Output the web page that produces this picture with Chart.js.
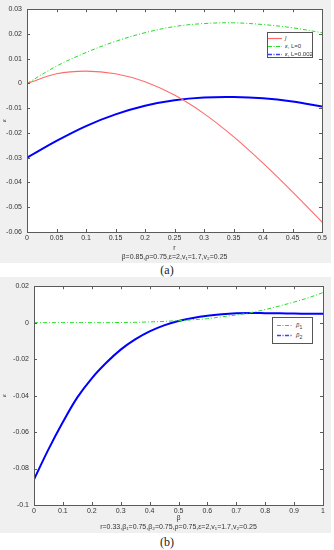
<!DOCTYPE html>
<html>
<head>
<meta charset="utf-8">
<script src="https://cdn.jsdelivr.net/npm/chart.js@4/dist/chart.umd.min.js"></script>
<style>
  body { margin: 0; background: #fff; width: 334px; height: 550px; position: relative; overflow: hidden; font-family: "Liberation Sans", Arial, sans-serif; }
  .fig { position: absolute; left: 0; width: 331px; background: #f0f0f0; }
  .cap { position: absolute; left: 0; width: 334px; text-align: center; font-family: "Liberation Serif", serif; font-size: 12px; color: #222; }
  .legend { position: absolute; background: #fff; border: 1px solid #555; font-size: 6px; color: #333; }
  .legend div { height: 8px; line-height: 8px; white-space: nowrap; }
  .legend svg { vertical-align: middle; margin-right: 3px; }
</style>
</head>
<body>
<div class="fig" style="top:0;height:263px"><canvas id="chartA"></canvas></div>
<div class="cap" style="top:263px">(a)</div>
<div class="fig" style="top:277px;height:256px"><canvas id="chartB"></canvas></div>
<div class="cap" style="top:535px">(b)</div>

<div class="legend" style="left:267px;top:32px;width:44px;height:23px;padding-top:1px">
  <div><svg width="14" height="3"><line x1="0" y1="1.5" x2="14" y2="1.5" stroke="#ff6b6b" stroke-width="1.2"/></svg><i>ĵ</i></div>
  <div><svg width="14" height="3"><line x1="0" y1="1.5" x2="14" y2="1.5" stroke="#22dd22" stroke-width="1" stroke-dasharray="4 1.5 1 1.5"/></svg><i>ε</i>, L=0</div>
  <div><svg width="14" height="3"><line x1="0" y1="1.5" x2="14" y2="1.5" stroke="#3344ff" stroke-width="1.6" stroke-dasharray="4 1.5 1 1.5"/></svg><i>ε</i>, L=0.002</div>
</div>
<div class="legend" style="left:272px;top:317px;width:39px;height:23px;padding-top:2px">
  <div style="height:10px;line-height:10px"><svg width="16" height="3" style="margin-left:4px"><line x1="0" y1="1.5" x2="16" y2="1.5" stroke="#22dd22" stroke-width="1" stroke-dasharray="4 1.5 1 1.5"/></svg><i>β</i><sub>1</sub></div>
  <div style="height:10px;line-height:10px"><svg width="16" height="3" style="margin-left:4px"><line x1="0" y1="1.5" x2="16" y2="1.5" stroke="#3344ff" stroke-width="1.6" stroke-dasharray="4 1.5 1 1.5"/></svg><i>β</i><sub>2</sub></div>
</div>

<script>
// (a) r on the x axis
const rValues = [0, 0.05, 0.1, 0.15, 0.2, 0.25, 0.3, 0.35, 0.4, 0.45, 0.5];
const jHat = [0, 0.0039, 0.005, 0.0039, 0.0007, -0.0047, -0.0122, -0.0215, -0.0322, -0.0438, -0.056];
const epsL0 = [0, 0.007, 0.0125, 0.017, 0.0205, 0.023, 0.0242, 0.0245, 0.0238, 0.0225, 0.0205];
const epsL002 = [-0.03, -0.0232, -0.0172, -0.0125, -0.009, -0.0068, -0.0057, -0.0055, -0.006, -0.0073, -0.0093];

// (b) beta on the x axis
const betaValues = [0, 0.05, 0.1, 0.15, 0.2, 0.25, 0.3, 0.35, 0.4, 0.45, 0.5,
  0.55, 0.6, 0.65, 0.7, 0.75, 0.8, 0.85, 0.9, 0.95, 1];
const beta1 = [0, 0, 0, 0, 0, 0, 0.0001, 0.0002, 0.0004, 0.0007, 0.0011,
  0.0016, 0.0022, 0.0032, 0.0042, 0.0055, 0.0072, 0.0092, 0.0113, 0.0137, 0.0165];
const beta2 = [-0.086, -0.0695, -0.0545, -0.041, -0.0305, -0.022, -0.0148, -0.0092, -0.0048, -0.0015, 0.0009,
  0.0026, 0.0038, 0.0046, 0.0051, 0.0053, 0.0052, 0.0051, 0.005, 0.0049, 0.0049];

const subtitleA = "β=0.85,ρ=0.75,ε=2,v₁=1.7,v₂=0.25";
const subtitleB = "r=0.33,β₁=0.75,β₂=0.75,ρ=0.75,ε=2,v₁=1.7,v₂=0.25";

const tickFont = { family: "'Liberation Sans', Arial, sans-serif", size: 7 };
const fmt = v => String(+v.toFixed(3));

function pts(xs, ys) {
    return xs.map((x, i) => ({ x: x, y: ys[i] }));
}

// white axes box, frame and inward ticks like matlab
const matlabBox = {
    id: "matlabBox",
    beforeDraw(chart) {
        const a = chart.chartArea;
        const c = chart.ctx;
        c.save();
        c.fillStyle = "#fff";
        c.fillRect(a.left, a.top, a.right - a.left, a.bottom - a.top);
        c.restore();
    },
    afterDraw(chart) {
        const a = chart.chartArea;
        const c = chart.ctx;
        c.save();
        c.strokeStyle = "#5a5a5a";
        c.lineWidth = 1;
        c.strokeRect(Math.round(a.left) + 0.5, Math.round(a.top) + 0.5,
            Math.round(a.right - a.left), Math.round(a.bottom - a.top));
        c.beginPath();
        chart.scales.x.ticks.forEach(t => {
            const px = Math.round(chart.scales.x.getPixelForValue(t.value)) + 0.5;
            c.moveTo(px, a.bottom); c.lineTo(px, a.bottom - 3);
            c.moveTo(px, a.top); c.lineTo(px, a.top + 3);
        });
        chart.scales.y.ticks.forEach(t => {
            const py = Math.round(chart.scales.y.getPixelForValue(t.value)) + 0.5;
            c.moveTo(a.left, py); c.lineTo(a.left + 3, py);
            c.moveTo(a.right, py); c.lineTo(a.right - 3, py);
        });
        c.stroke();
        c.restore();
    }
};

function makeChart(id, datasets, xr, yr, xTitle, sub, yWidth, xHeight, pad) {
    return new Chart(document.getElementById(id), {
        type: "line",
        data: { datasets: datasets },
        plugins: [matlabBox],
        options: {
            responsive: true,
            maintainAspectRatio: false,
            animation: false,
            layout: { padding: pad },
            plugins: { legend: { display: false }, tooltip: { enabled: false } },
            elements: { point: { radius: 0 }, line: { tension: 0.35 } },
            scales: {
                x: {
                    type: "linear",
                    min: xr[0], max: xr[1],
                    afterFit: s => { s.height = xHeight; },
                    grid: { display: false, drawTicks: false },
                    border: { display: false },
                    ticks: { stepSize: xr[2], font: tickFont, color: "#333", padding: 2, maxRotation: 0, callback: fmt },
                    title: { display: true, text: [xTitle, sub], font: { family: tickFont.family, size: 7 }, color: "#333", padding: { top: 0, bottom: 2 } }
                },
                y: {
                    min: yr[0], max: yr[1],
                    afterFit: s => { s.width = yWidth; },
                    grid: { display: false, drawTicks: false },
                    border: { display: false },
                    ticks: { stepSize: yr[2], font: tickFont, color: "#333", padding: 5, callback: fmt },
                    title: { display: true, text: "ε", font: { family: tickFont.family, size: 6, style: "italic" }, color: "#333", padding: 1 }
                }
            }
        }
    });
}

makeChart("chartA", [
    { label: "ĵ", data: pts(rValues, jHat), borderColor: "#ff6b6b", borderWidth: 1.1 },
    { label: "ε, L=0", data: pts(rValues, epsL0), borderColor: "#22dd22", borderWidth: 1, borderDash: [4, 2, 1, 2] },
    { label: "ε, L=0.002", data: pts(rValues, epsL002), borderColor: "#0000ff", borderWidth: 2 }
], [0, 0.5, 0.05], [-0.06, 0.03, 0.01], "r", subtitleA, 27, 31, { top: 6, right: 9, bottom: 0, left: 0 });

makeChart("chartB", [
    { label: "β1", data: pts(betaValues, beta1), borderColor: "#22dd22", borderWidth: 1, borderDash: [4, 2, 1, 2] },
    { label: "β2", data: pts(betaValues, beta2), borderColor: "#0000ff", borderWidth: 2 }
], [0, 1, 0.1], [-0.1, 0.02, 0.02], "β", subtitleB, 34, 28, { top: 8, right: 8, bottom: 0, left: 0 });
</script>
</body>
</html>
